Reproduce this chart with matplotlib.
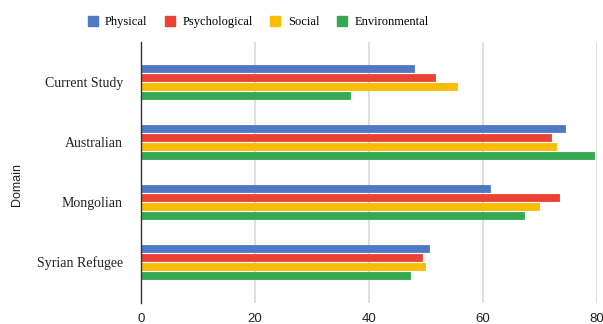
import matplotlib.pyplot as plt
import numpy as np
from matplotlib.patches import Patch

groups = ['Current Study', 'Australian', 'Mongolian', 'Syrian Refugee']
series = ['Physical', 'Psychological', 'Social', 'Environmental']
physical = [47.9, 74.3, 61.3, 50.5]
psychological = [51.5, 71.9, 73.4, 49.3]
social = [55.5, 72.8, 69.9, 49.8]
environmental = [36.7, 79.5, 67.2, 47.2]
xticks = [0, 20, 40, 60, 80]

colors = ['#5079C4', '#EA4335', '#FBBC04', '#34A853']
values = [physical, psychological, social, environmental]

fig = plt.figure(figsize=(6.03, 3.24), dpi=100)
ax = fig.add_axes([141 / 603, 21 / 324, 456 / 603, 261 / 324])

y = np.arange(len(groups))
step = 0.153
height = 0.11
for k, (vals, col) in enumerate(zip(values, colors)):
    off = (k - 1.5) * step
    ax.barh(y + off, vals, height=height, color=col, edgecolor=col,
            linewidth=0.6, joinstyle='round', zorder=3)

ax.set_xlim(0, 80)
ax.set_ylim(3.683, -0.667)
ax.set_xticks(xticks)
ax.set_xticklabels([str(t) for t in xticks], fontsize=9.5, family='Liberation Sans', color='#222222')
ax.set_yticks(y)
ax.set_yticklabels(groups, fontsize=10, family='Liberation Serif', color='#222222')
ax.tick_params(length=0, pad=7)
ax.tick_params(axis='y', pad=13)
ax.grid(axis='x', color='#d9d9d9', linewidth=1.2, zorder=0)
for s in ['top', 'right', 'bottom']:
    ax.spines[s].set_visible(False)
ax.spines['left'].set_color('#333333')
ax.spines['left'].set_linewidth(1.0)
ax.spines['left'].set_zorder(4)

fig.text(17 / 603, 1 - 184 / 324, 'Domain', rotation=90, ha='center', va='center',
         fontsize=9, family='Liberation Sans', color='#222222')

handles = [Patch(facecolor=c, edgecolor=c) for c in colors]
fig.legend(handles, series, loc='center', bbox_to_anchor=(0.428, 1 - 22 / 324), ncol=4,
           frameon=False, prop={'family': 'Liberation Serif', 'size': 9},
           handlelength=0.8, handleheight=0.9, handletextpad=0.6, columnspacing=1.4)

fig.savefig('out.png', dpi=100)
